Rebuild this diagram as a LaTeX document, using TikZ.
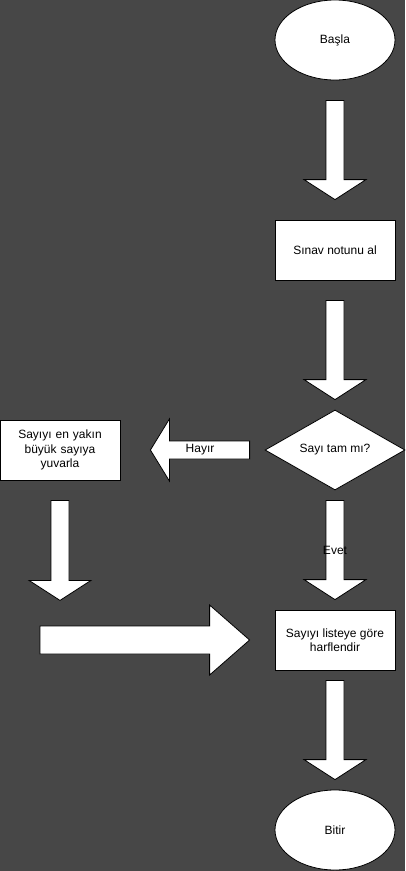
\documentclass[tikz,border=0pt]{standalone}
\usepackage{fontspec}
\setmainfont{Liberation Sans}
\usetikzlibrary{shapes.geometric,calc}
\definecolor{bg}{HTML}{474747}
\tikzset{
 every node/.style={font=\fontsize{12}{14.5}\selectfont, text=black},
 terminal/.style={ellipse, draw=black, fill=white, minimum width=120pt, minimum height=80pt, inner sep=0pt, line width=0.8pt},
 process/.style={rectangle, draw=black, fill=white, minimum width=120pt, minimum height=60pt, inner sep=2pt, align=center, line width=0.8pt},
 decision/.style={diamond, draw=black, fill=white, minimum width=140pt, minimum height=80pt, aspect=1.75, inner sep=0pt, line width=0.8pt},
 arrowbody/.style={draw=black, fill=white, line width=0.8pt, line join=miter},
 lbl/.style={inner sep=0pt},
}
% #1 start, #2 end, #3 shaft half width, #4 head half width, #5 head length
\newcommand\fatarrow[5]{%
 \coordinate (hb) at ($(#2)!#5!(#1)$);
 \draw[arrowbody] ($(#1)!#3!90:(#2)$) -- ($(hb)!#3!90:(#2)$) -- ($(hb)!#4!90:(#2)$) -- (#2)
   -- ($(hb)!#4!-90:(#2)$) -- ($(hb)!#3!-90:(#2)$) -- ($(#1)!#3!-90:(#2)$) -- cycle;
}
\begin{document}
\begin{tikzpicture}[x=1pt,y=-1pt]
\fill[bg] (0,0) rectangle (405,871);
\useasboundingbox (0,0) rectangle (405,871);

\node[terminal] (start) at (335,40) {Başla};
\node[process] (read) at (335,250) {Sınav notunu al};
\node[decision] (dec) at (335,450) {Sayı tam mı?};
\node[process, text width=112pt] (round) at (60,450) {Sayıyı en yakın\\büyük sayıya\\yuvarla};
\node[process] (spell) at (335,640) {Sayıyı listeye göre\\harflendir};
\node[terminal] (end) at (335,830) {Bitir};

\coordinate (a1s) at ($(start.south)+(0,20)$);
\coordinate (a1e) at ($(read.north)+(0,-20)$);
\coordinate (a2s) at ($(read.south)+(0,20)$);
\coordinate (a2e) at ($(dec.north)+(0,-10)$);
\coordinate (a3s) at ($(dec.west)+(-15,0)$);
\coordinate (a3e) at ($(round.east)+(30,0)$);
\coordinate (a4s) at ($(round.south)+(0,20)$);
\coordinate (a4e) at ($(round.south)+(0,120)$);
\coordinate (a5s) at ($(dec.south)+(0,10)$);
\coordinate (a5e) at ($(spell.north)+(0,-10)$);
\coordinate (a6s) at (40,640);
\coordinate (a6e) at ($(spell.west)+(-25,0)$);
\coordinate (a7s) at ($(spell.south)+(0,10)$);
\coordinate (a7e) at ($(end.north)+(0,-10)$);

\fatarrow{a1s}{a1e}{9pt}{31pt}{20pt}
\fatarrow{a2s}{a2e}{9pt}{31pt}{20pt}
\fatarrow{a3s}{a3e}{9pt}{31pt}{19pt}
\fatarrow{a4s}{a4e}{9pt}{31pt}{20pt}
\fatarrow{a5s}{a5e}{9pt}{31pt}{20pt}
\fatarrow{a6s}{a6e}{14pt}{35pt}{40pt}
\fatarrow{a7s}{a7e}{9pt}{31pt}{20pt}

\node[lbl] (hayir) at ($(a3s)!0.5!(a3e)$) {Hayır};
\node[lbl] (evet) at ($(a5s)!0.5!(a5e)$) {Evet};
\end{tikzpicture}
\end{document}
